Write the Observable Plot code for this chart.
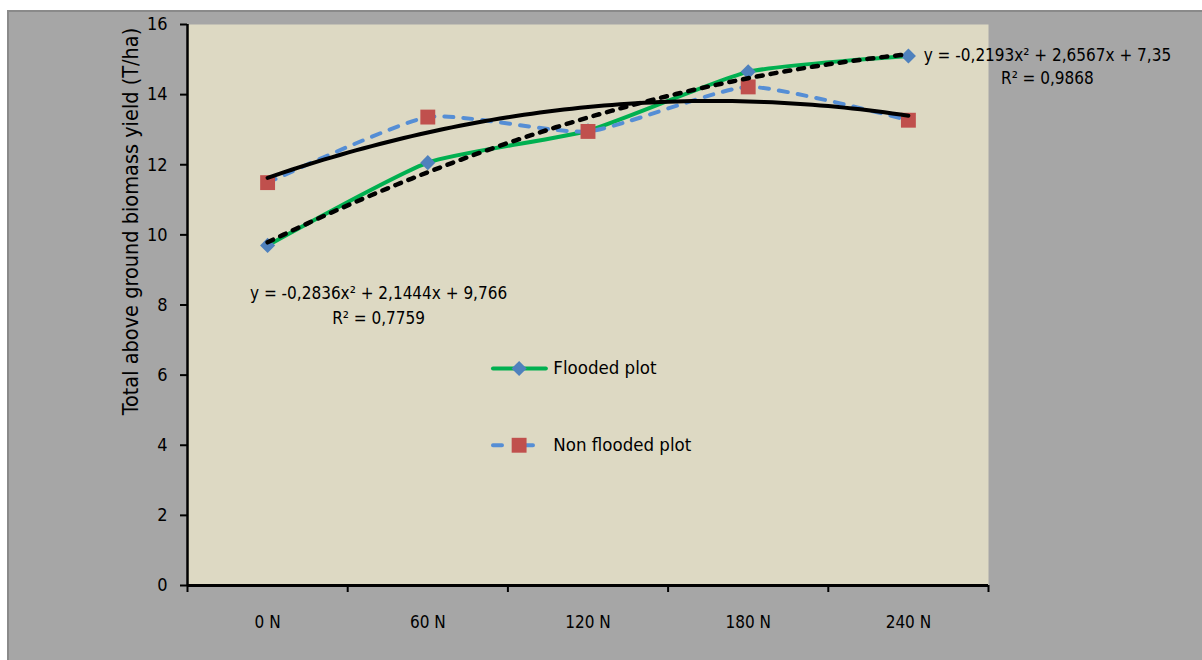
<!DOCTYPE html>
<html>
<head>
<meta charset="utf-8">
<script src="https://cdn.jsdelivr.net/npm/d3@7"></script>
<script src="https://cdn.jsdelivr.net/npm/@observablehq/plot@0.6"></script>
<style>
  html, body { margin: 0; padding: 0; background: #ffffff; }
  #wrap { position: relative; width: 1202px; height: 660px; overflow: hidden; }
  #bg { position: absolute; left: 7px; top: 10px; right: 0; bottom: 0;
        background: #A6A6A6; border-left: 2px solid #8A8A8A; border-top: 2px solid #8A8A8A; }
  #chart { position: absolute; left: 0; top: 0; }
</style>
</head>
<body>
<div id="wrap"><div id="bg"></div><div id="chart"></div></div>
<script>
const categories = ["0 N", "60 N", "120 N", "180 N", "240 N"];
const flooded = [9.70, 12.06, 12.97, 14.65, 15.10];
const nonFlooded = [11.49, 13.36, 12.95, 14.22, 13.27];
const floodedFit = [-0.2193, 2.6567, 7.35];      // a, b, c of the flooded polynomial trendline
const nonFloodedFit = [-0.2836, 2.1444, 9.766];  // a, b, c of the non flooded polynomial trendline
const floodedEq = "y = -0,2193x² + 2,6567x + 7,35\nR² = 0,9868";
const nonFloodedEq = "y = -0,2836x² + 2,1444x + 9,766\nR² = 0,7759";
const seriesNames = ["Flooded plot", "Non flooded plot"];
const yTicks = [0, 2, 4, 6, 8, 10, 12, 14, 16];
const yLabel = "Total above ground biomass yield (T/ha)";

const rows = categories.map((c, i) => ({i: i + 1, c, f: flooded[i], n: nonFlooded[i]}));
const bounds = d3.range(0.5, categories.length + 1, 1);
const fitX = d3.range(1, categories.length + 0.0001, 0.05);
const evalFit = (p, x) => p[0] * x * x + p[1] * x + p[2];
const fitF = fitX.map(x => ({x, y: evalFit(floodedFit, x)}));
const fitN = fitX.map(x => ({x, y: evalFit(nonFloodedFit, x)}));

const font = "'DejaVu Sans Condensed', 'Liberation Sans Narrow', 'Open Sans', sans-serif";
const GREEN = "#00B050", BLUE = "#558ED5", DIAMOND = "#4F81BD", RED = "#C0504D";

// legend rows (y positions in data units inside plot)
const legendY = [6.19, 4.0];
const legendX = [2.41, 2.74];
const legendMarkX = 2.57;

const chart = Plot.plot({
  width: 1202, height: 660,
  marginLeft: 187, marginRight: 214, marginTop: 24, marginBottom: 75,
  style: {background: "transparent", fontFamily: font, fontSize: "17px", color: "#000", overflow: "visible"},
  x: {type: "linear", domain: [0.5, categories.length + 0.5]},
  y: {domain: [0, 16]},
  marks: [
    Plot.frame({fill: "#DDD9C3", stroke: null}),
    Plot.axisY({ticks: yTicks, tickSize: 7, tickPadding: 13, strokeWidth: 2, label: null, fontSize: 18}),
    Plot.axisX({ticks: bounds, tickSize: 7, tickFormat: () => "", label: null, strokeWidth: 2}),
    Plot.axisX({ticks: d3.range(1, categories.length + 1), tickSize: 0, tickPadding: 30,
                tickFormat: i => categories[i - 1], label: null, fontSize: 17}),
    Plot.ruleX([0.5], {stroke: "#000", strokeWidth: 2.5}),
    Plot.ruleY([0], {stroke: "#000", strokeWidth: 3}),
    // series lines (smoothed as in the original)
    Plot.line(rows, {x: "i", y: "f", stroke: GREEN, strokeWidth: 4, curve: "cardinal", tension: 0.45}),
    Plot.dot(rows, {x: "i", y: "f", symbol: "diamond2", r: 6.8, fill: DIAMOND, stroke: null}),
    Plot.line(rows, {x: "i", y: "n", stroke: BLUE, strokeWidth: 4, strokeDasharray: "9,10",
                     strokeLinecap: "round", curve: "cardinal", tension: 0.45}),
    Plot.dot(rows, {x: "i", y: "n", symbol: "square", r: 8.4, fill: RED, stroke: null}),
    // trendlines
    Plot.line(fitN, {x: "x", y: "y", stroke: "#000", strokeWidth: 4, strokeLinecap: "round"}),
    Plot.line(fitF, {x: "x", y: "y", stroke: "#000", strokeWidth: 4.5, strokeDasharray: "6,8",
                     strokeLinecap: "round"}),
    // trendline equations
    Plot.text([floodedEq], {x: () => categories.length, y: () => flooded[4], dx: 139, dy: 9,
                            textAnchor: "middle", lineAnchor: "middle", lineHeight: 1.38, fontSize: 17}),
    Plot.text([nonFloodedEq], {x: () => 1, y: () => flooded[0], dx: 111, dy: 58,
                               textAnchor: "middle", lineAnchor: "middle", lineHeight: 1.5, fontSize: 17}),
    // legend
    Plot.ruleY(legendY.slice(0, 1), {x1: legendX[0], x2: legendX[1], stroke: GREEN, strokeWidth: 4,
                                     strokeLinecap: "round"}),
    Plot.dot(legendY.slice(0, 1), {x: () => legendMarkX, y: d => d, symbol: "diamond2", r: 6.8, fill: DIAMOND}),
    Plot.ruleY(legendY.slice(1, 2), {x1: legendX[0], x2: legendX[1], stroke: BLUE, strokeWidth: 4,
                                     strokeDasharray: "9,22", strokeLinecap: "round"}),
    Plot.dot(legendY.slice(1, 2), {x: () => legendMarkX, y: d => d, symbol: "square", r: 8.4, fill: RED}),
    Plot.text(seriesNames, {x: () => legendX[1], y: (d, i) => legendY[i], dx: 7, textAnchor: "start",
                            fontSize: 18.5}),
    // y-axis title
    Plot.text([yLabel], {frameAnchor: "top-left", dx: -56, dy: 197, rotate: -90, fontSize: 21.5,
                         textAnchor: "middle", lineAnchor: "middle"})
  ]
});
document.getElementById("chart").appendChild(chart);
</script>
</body>
</html>
